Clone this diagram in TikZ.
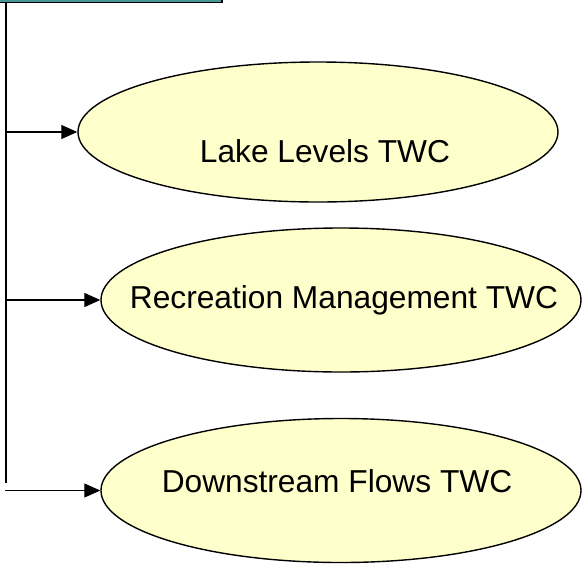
\documentclass[tikz,border=0pt]{standalone}
\usepackage{fontspec}
\setmainfont{Liberation Sans}
\usetikzlibrary{shapes.geometric,arrows.meta}
\definecolor{ellfill}{RGB}{255,255,204}
\definecolor{tealbar}{RGB}{72,150,150}
\tikzset{
  twc/.style={ellipse, draw=black, line width=1.4pt, fill=ellfill, inner sep=0pt, minimum width=480pt},
  lbl/.style={anchor=base, inner sep=0pt, font=\fontsize{31.7}{38}\selectfont},
  feed/.style={line width=1.2pt, -{Triangle[length=16pt,width=14pt]}},
  trunk/.style={line width=2.2pt}
}
\begin{document}
\begin{tikzpicture}[x=1pt,y=-1pt]
\useasboundingbox (0,0) rectangle (586,563);
% top bar
\fill[tealbar] (0,0) rectangle (221,2);
\draw[black, line width=1pt] (0,2.5) -- (223,2.5);
\fill[black] (221,0) rectangle (223,3);
% ellipses
\node[twc, minimum height=140pt] (e1) at (318,132) {};
\node[twc, minimum height=144pt] (e2) at (341,300) {};
\node[twc, minimum height=144pt] (e3) at (341,490.5) {};
% labels
\node[lbl] (t1) at (325,162) {Lake Levels TWC};
\node[lbl] (t2) at (344,308) {Recreation Management TWC};
\node[lbl] (t3) at (337,492) {Downstream Flows TWC};
% trunk
\coordinate (top) at (6,3);
\coordinate (bot) at (6,483);
\coordinate (b1) at (6,132);
\coordinate (b2) at (6,300);
\coordinate (b3) at (5,490.5);
\draw[trunk] (top) -- (bot);
\draw[feed] (b1) -- (e1.west);
\draw[feed] (b2) -- (e2.west);
\draw[feed] (b3) -- (e3.west);
\end{tikzpicture}
\end{document}
